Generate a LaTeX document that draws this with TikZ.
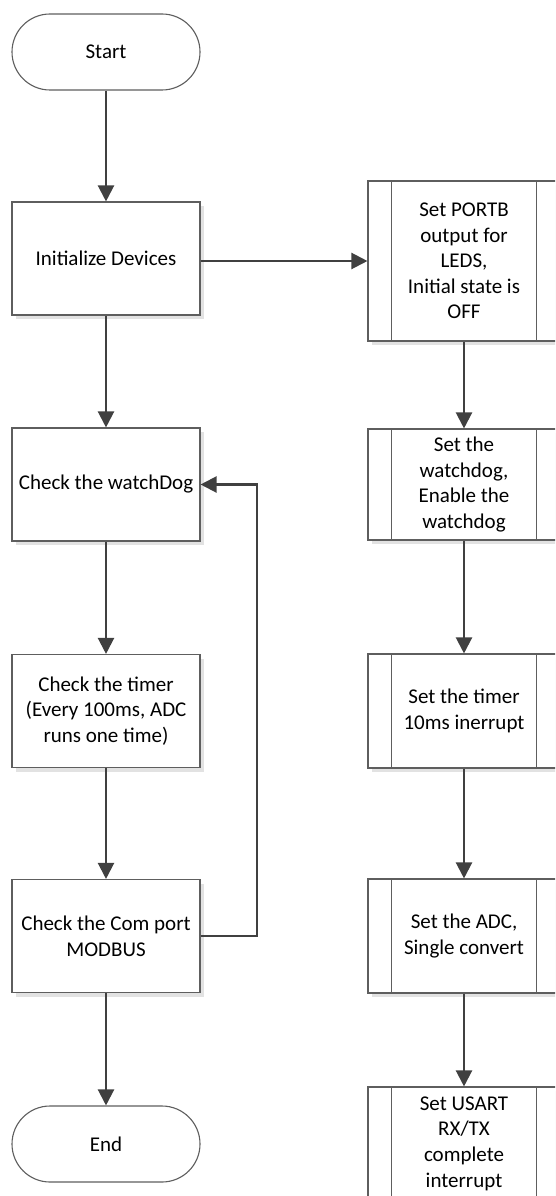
\documentclass[tikz,border=0pt]{standalone}
\usepackage{fontspec}
\setmainfont{Carlito}
\usetikzlibrary{arrows.meta,shadows}
\definecolor{boxline}{HTML}{5E5E5E}
\definecolor{conline}{HTML}{404040}
\definecolor{shade}{HTML}{E2E2E2}
\tikzset{
  base/.style={draw=boxline, line width=1.1pt, fill=white, align=center,
    font=\fontsize{21}{25.6}\selectfont, inner sep=2pt},
  term/.style={base, rectangle, rounded corners=38pt, minimum width=188pt, minimum height=76pt},
  proc/.style={base, rectangle, minimum width=188pt, minimum height=113pt,
    drop shadow={shadow xshift=4pt, shadow yshift=-4pt, fill=shade, opacity=1}},
  pre/.style={base, rectangle, minimum width=192pt,
    drop shadow={shadow xshift=4pt, shadow yshift=-4pt, fill=shade, opacity=1}},
  conn/.style={draw=conline, line width=2.2pt, -{Triangle[length=16pt,width=16pt]}},
}
\begin{document}
\begin{tikzpicture}[x=1pt,y=-1pt]
\useasboundingbox (0,0) rectangle (555,1196);
\clip (0,0) rectangle (555,1196);
% left column
\node[term] (start) at (106,52) {Start};
\node[proc] (init) at (106,258.5) {Initialize Devices};
\node[proc] (wd) at (106,484.5) {Check the watchDog};
\node[proc] (timer) at (106,711) {Check the timer\\(Every 100ms, ADC\\runs one time)};
\node[proc] (com) at (106,936) {Check the Com port\\MODBUS};
\node[term] (end) at (106,1144) {End};
% right column
\node[pre, minimum height=160pt] (b1) at (464,261) {Set PORTB\\output for\\LEDS,\\Initial state is\\OFF};
\node[pre, minimum height=111pt] (b2) at (464,484.5) {Set the\\watchdog,\\Enable the\\watchdog};
\node[pre, minimum height=114pt] (b3) at (464,711) {Set the timer\\10ms inerrupt};
\node[pre, minimum height=114pt] (b4) at (464,936) {Set the ADC,\\Single convert};
\node[pre, minimum height=113pt] (b5) at (464,1143.5) {Set USART\\RX/TX\\complete\\interrupt};
\foreach \b in {b1,b2,b3,b4,b5}{
  \draw[boxline, line width=1.1pt] ([xshift=24pt]\b.north west) -- ([xshift=24pt]\b.south west);
  \draw[boxline, line width=1.1pt] ([xshift=-24pt]\b.north east) -- ([xshift=-24pt]\b.south east);
}
% connectors
\draw[conn] (start) -- (init);
\draw[conn] (init) -- (wd);
\draw[conn] (wd) -- (timer);
\draw[conn] (timer) -- (com);
\draw[conn] (com) -- (end);
\draw[conn] (b1.west -| init.east) -- (b1.west);
\draw[conn] (b1) -- (b2);
\draw[conn] (b2) -- (b3);
\draw[conn] (b3) -- (b4);
\draw[conn] (b4) -- (b5);
\coordinate (loopx) at (257,0);
\draw[conn] (com.east) -- (com.east -| loopx) -- (wd.east -| loopx) -- (wd.east);
\end{tikzpicture}
\end{document}
